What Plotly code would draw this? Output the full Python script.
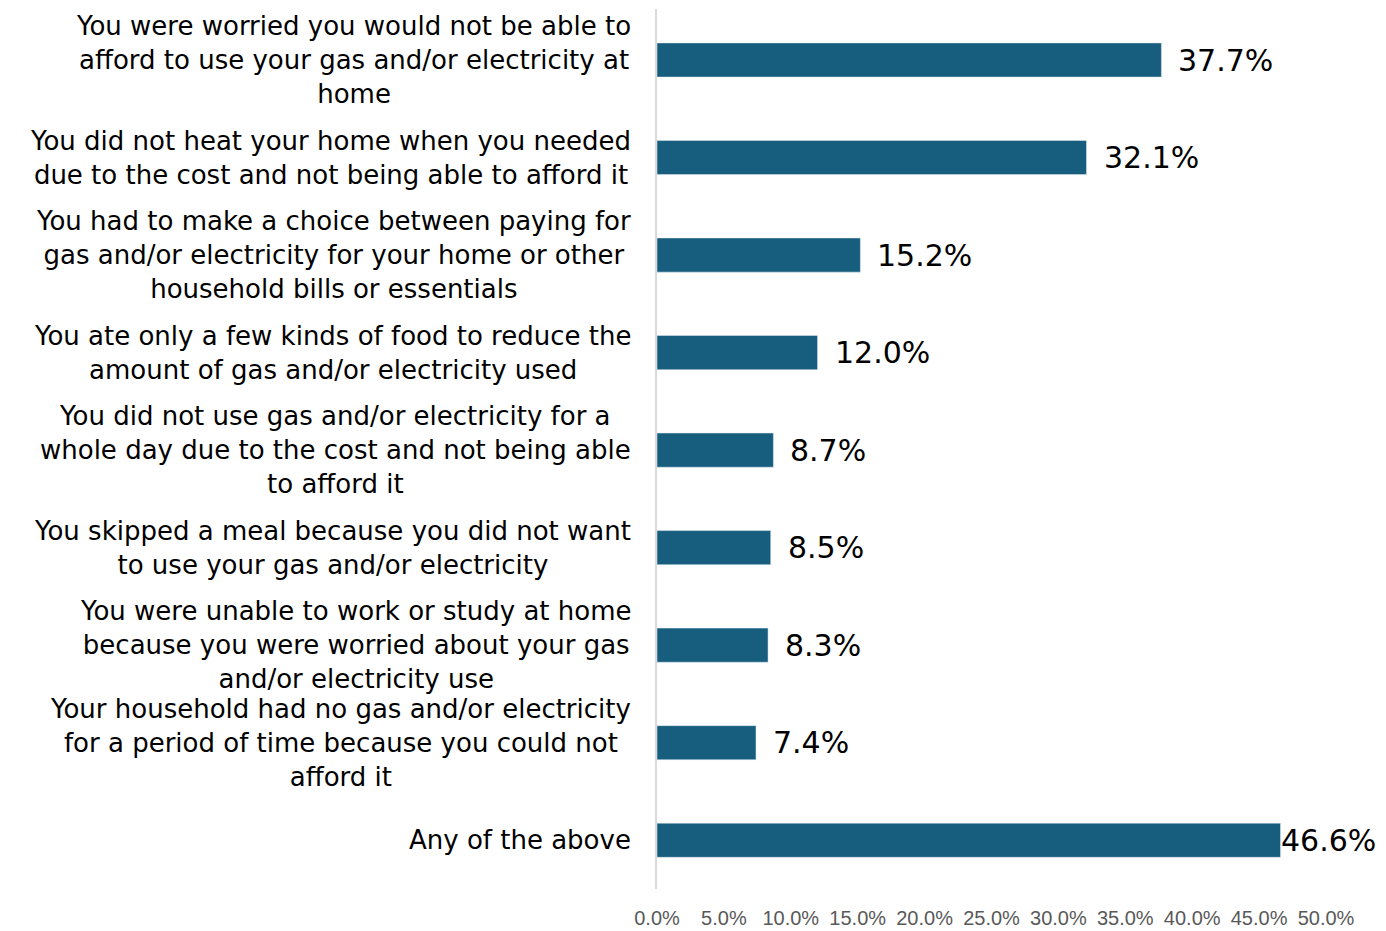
import plotly.graph_objects as go

categories = [
    "You were worried you would not be able to<br>afford to use your gas and/or electricity at<br>home",
    "You did not heat your home when you needed<br>due to the cost and not being able to afford it",
    "You had to make a choice between paying for<br>gas and/or electricity for your home or other<br>household bills or essentials",
    "You ate only a few kinds of food to reduce the<br>amount of gas and/or electricity used",
    "You did not use gas and/or electricity for a<br>whole day due to the cost and not being able<br>to afford it",
    "You skipped a meal because you did not want<br>to use your gas and/or electricity",
    "You were unable to work or study at home<br>because you were worried about your gas<br>and/or electricity use",
    "Your household had no gas and/or electricity<br>for a period of time because you could not<br>afford it",
    "Any of the above",
]
values = [37.7, 32.1, 15.2, 12.0, 8.7, 8.5, 8.3, 7.4, 46.6]
tick_vals = [0, 5, 10, 15, 20, 25, 30, 35, 40, 45, 50]
tick_text = ["0.0%", "5.0%", "10.0%", "15.0%", "20.0%", "25.0%", "30.0%", "35.0%", "40.0%", "45.0%", "50.0%"]

ids = list(range(len(categories)))

fig = go.Figure()
fig.add_trace(go.Bar(
    x=values, y=ids, orientation="h",
    marker=dict(color="#175E7E"),
    hoverinfo="skip",
))

annotations = []
for i, (c, v) in enumerate(zip(categories, values)):
    annotations.append(dict(
        x=0, xref="paper", y=i, yref="y", text=c, showarrow=False,
        xanchor="right", yanchor="middle", align="center", xshift=-24,
        font=dict(family="DejaVu Sans", size=26, color="#000000"),
    ))
    annotations.append(dict(
        x=v, xref="x", y=i, yref="y", text=f"{v:.1f}%", showarrow=False,
        xanchor="left", yanchor="middle", xshift=(15 if v < 45 else -2),
        font=dict(family="DejaVu Sans", size=30, color="#000000"),
    ))

fig.update_layout(
    width=1386, height=931,
    margin=dict(l=657, r=60, t=9, b=42, autoexpand=False),
    plot_bgcolor="white", paper_bgcolor="white",
    bargap=0.65,
    showlegend=False,
    annotations=annotations,
    xaxis=dict(range=[0, 50], tickvals=tick_vals, ticktext=tick_text,
               showgrid=False, zeroline=False, showline=False,
               automargin=False, ticklabelstandoff=15,
               tickfont=dict(family="Liberation Sans", size=20, color="#595959")),
    yaxis=dict(autorange="reversed", showticklabels=False, showgrid=False,
               zeroline=False, showline=True, linecolor="#D9D9D9", linewidth=2,
               automargin=False, range=[8.5, -0.5]),
)

fig.write_html("out.html")
